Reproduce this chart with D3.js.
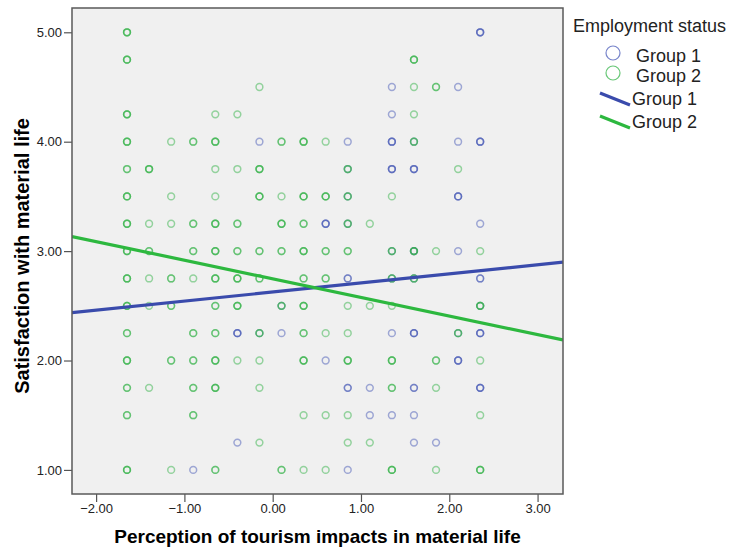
<!DOCTYPE html>
<html>
<head>
<meta charset="utf-8">
<script src="https://cdn.jsdelivr.net/npm/d3@7"></script>
<style>
  body { margin: 0; background: #fff; }
  svg text { font-family: "Liberation Sans", Arial, sans-serif; fill: #000; }
  .axis path { display: none; }
  .axis line { stroke: #555; stroke-width: 1.2; }
  .axis text { font-size: 13px; fill: #222; }
  .axis-title { font-size: 19px; font-weight: bold; }
  .legend text { font-size: 18px; fill: #222; }
</style>
</head>
<body>
<svg id="chart"></svg>
<script>
// scatter points per group: [x, y, overlap count]
const group1Points = [
  [2.35, 5.00, 3],
  [1.35, 4.50, 1], [2.10, 4.50, 1],
  [1.35, 4.25, 1],
  [-0.15, 4.00, 1], [0.85, 4.00, 1], [1.35, 4.00, 3], [1.60, 4.00, 1], [2.10, 4.00, 1], [2.35, 4.00, 3],
  [0.85, 3.75, 1], [1.35, 3.75, 3], [1.60, 3.75, 3],
  [0.85, 3.50, 1], [2.10, 3.50, 3],
  [0.60, 3.25, 3], [0.85, 3.25, 1], [2.35, 3.25, 1],
  [1.35, 3.00, 1], [1.60, 3.00, 2], [2.10, 3.00, 1],
  [0.85, 2.75, 2], [1.35, 2.75, 1], [1.60, 2.75, 1], [2.35, 2.75, 2],
  [0.10, 2.50, 1], [2.35, 2.50, 1],
  [-0.40, 2.25, 3], [-0.15, 2.25, 1], [0.10, 2.25, 1], [1.35, 2.25, 1], [1.60, 2.25, 3], [2.10, 2.25, 1], [2.35, 2.25, 3],
  [0.60, 2.00, 1], [2.10, 2.00, 3],
  [0.85, 1.75, 2], [1.10, 1.75, 1], [1.60, 1.75, 2], [2.35, 1.75, 3],
  [1.10, 1.50, 1], [1.35, 1.50, 1], [1.60, 1.50, 1],
  [-0.40, 1.25, 1], [1.60, 1.25, 1], [1.85, 1.25, 1],
  [-0.90, 1.00, 1], [0.85, 1.00, 1]
];

const group2Points = [
  [-1.65, 5.00, 3],
  [-1.65, 4.75, 3], [1.60, 4.75, 3],
  [-0.15, 4.50, 1], [1.60, 4.50, 1], [1.85, 4.50, 2],
  [-1.65, 4.25, 3], [-0.65, 4.25, 1], [-0.40, 4.25, 1], [1.60, 4.25, 1],
  [-1.65, 4.00, 3], [-1.15, 4.00, 1], [-0.90, 4.00, 2], [-0.65, 4.00, 3], [0.10, 4.00, 2], [0.35, 4.00, 3], [0.60, 4.00, 1], [1.60, 4.00, 2],
  [-1.65, 3.75, 2], [-1.40, 3.75, 3], [-0.65, 3.75, 1], [-0.40, 3.75, 1], [-0.15, 3.75, 3], [0.85, 3.75, 2], [2.10, 3.75, 1],
  [-1.65, 3.50, 3], [-1.15, 3.50, 1], [-0.65, 3.50, 1], [-0.15, 3.50, 3], [0.10, 3.50, 1], [0.35, 3.50, 3], [0.60, 3.50, 3], [0.85, 3.50, 2], [1.35, 3.50, 1],
  [-1.65, 3.25, 3], [-1.40, 3.25, 1], [-1.15, 3.25, 1], [-0.90, 3.25, 2], [-0.65, 3.25, 3], [-0.40, 3.25, 2], [0.10, 3.25, 3], [0.35, 3.25, 2], [0.85, 3.25, 2], [1.10, 3.25, 1],
  [-1.65, 3.00, 3], [-1.40, 3.00, 2], [-0.90, 3.00, 2], [-0.65, 3.00, 3], [-0.40, 3.00, 2], [-0.15, 3.00, 2], [0.10, 3.00, 2], [0.35, 3.00, 3], [0.60, 3.00, 2], [0.85, 3.00, 2], [1.35, 3.00, 2], [1.60, 3.00, 3], [1.85, 3.00, 1], [2.35, 3.00, 1],
  [-1.65, 2.75, 3], [-1.40, 2.75, 1], [-1.15, 2.75, 2], [-0.90, 2.75, 1], [-0.65, 2.75, 3], [-0.40, 2.75, 3], [-0.15, 2.75, 2], [0.35, 2.75, 2], [0.60, 2.75, 2], [1.35, 2.75, 2], [1.60, 2.75, 2],
  [-1.65, 2.50, 3], [-1.40, 2.50, 1], [-1.15, 2.50, 2], [-0.65, 2.50, 2], [-0.40, 2.50, 3], [0.10, 2.50, 2], [0.35, 2.50, 3], [0.85, 2.50, 1], [1.10, 2.50, 1], [1.35, 2.50, 1], [2.35, 2.50, 3],
  [-1.65, 2.25, 2], [-0.90, 2.25, 2], [-0.65, 2.25, 2], [-0.15, 2.25, 2], [0.35, 2.25, 2], [0.60, 2.25, 1], [0.85, 2.25, 1], [2.10, 2.25, 2],
  [-1.65, 2.00, 3], [-1.15, 2.00, 2], [-0.90, 2.00, 2], [-0.65, 2.00, 3], [-0.40, 2.00, 1], [-0.15, 2.00, 1], [0.35, 2.00, 3], [0.85, 2.00, 3], [1.35, 2.00, 3], [1.85, 2.00, 2], [2.35, 2.00, 1],
  [-1.65, 1.75, 2], [-1.40, 1.75, 1], [-0.90, 1.75, 2], [-0.65, 1.75, 3], [-0.15, 1.75, 1], [1.35, 1.75, 2], [1.85, 1.75, 1],
  [-1.65, 1.50, 2], [-0.90, 1.50, 2], [0.35, 1.50, 1], [0.60, 1.50, 1], [0.85, 1.50, 1], [2.35, 1.50, 1],
  [-0.15, 1.25, 1], [0.85, 1.25, 1], [1.10, 1.25, 1],
  [-1.65, 1.00, 3], [-1.15, 1.00, 1], [-0.65, 1.00, 2], [0.10, 1.00, 2], [0.35, 1.00, 1], [0.60, 1.00, 1], [1.35, 1.00, 3], [1.85, 1.00, 1], [2.35, 1.00, 3]
];

// linear fit lines per group
const groupNames = ["Group 1", "Group 2"];
const fitIntercepts = [2.626, 2.747];
const fitSlopes = [0.0829, -0.170];

const xTicks = [-2, -1, 0, 1, 2, 3];
const yTicks = [1, 2, 3, 4, 5];

const pointColors = ["#4a5bb8", "#35b449"];
const lineColors = ["#3a4bac", "#2db83f"];

const width = 734, height = 550;
const margin = {top: 8, right: 171, bottom: 56, left: 72};
const innerW = width - margin.left - margin.right;
const innerH = height - margin.top - margin.bottom;

const svg = d3.select("#chart").attr("width", width).attr("height", height);

const xScale = d3.scaleLinear().domain([-2.273, 3.288]).range([0, innerW]);
const yScale = d3.scaleLinear().domain([0.78, 5.222]).range([innerH, 0]);

const chart = svg.append("g")
  .attr("transform", `translate(${margin.left},${margin.top})`);

chart.append("rect")
  .attr("width", innerW).attr("height", innerH)
  .attr("fill", "#f0f0f0");

chart.append("clipPath").attr("id", "plot-clip")
  .append("rect").attr("width", innerW).attr("height", innerH);

// axes
chart.append("g")
  .attr("class", "axis x-axis")
  .attr("transform", `translate(0,${innerH})`)
  .call(d3.axisBottom(xScale).tickValues(xTicks).tickSize(8).tickPadding(2).tickFormat(d3.format(".2f")));

chart.append("g")
  .attr("class", "axis y-axis")
  .call(d3.axisLeft(yScale).tickValues(yTicks).tickSize(8).tickPadding(2).tickFormat(d3.format(".2f")));

// points
const groupData = [group1Points, group2Points];
const plotG = chart.append("g").attr("clip-path", "url(#plot-clip)");

groupData.forEach((pts, gi) => {
  // repeat overlapping cases so stacked circles look darker
  const expanded = [];
  pts.forEach(p => { for (let k = 0; k < p[2]; k++) expanded.push(p); });
  plotG.append("g").selectAll("circle")
    .data(expanded)
    .enter().append("circle")
    .attr("cx", d => xScale(d[0]))
    .attr("cy", d => yScale(d[1]))
    .attr("r", 3.4)
    .attr("fill", "none")
    .attr("stroke", pointColors[gi])
    .attr("stroke-width", 1.5)
    .attr("stroke-opacity", 0.5);
});

// fit lines
const line = d3.line().x(d => xScale(d[0])).y(d => yScale(d[1]));
groupNames.forEach((g, gi) => {
  const xs = xScale.domain();
  plotG.append("path")
    .datum(xs.map(x => [x, fitIntercepts[gi] + fitSlopes[gi] * x]))
    .attr("d", line)
    .attr("fill", "none")
    .attr("stroke", lineColors[gi])
    .attr("stroke-width", 3.2);
});

// frame
chart.append("rect")
  .attr("width", innerW).attr("height", innerH)
  .attr("fill", "none")
  .attr("stroke", "#5a5a5a")
  .attr("stroke-width", 1.5);

// axis titles
svg.append("text")
  .attr("class", "axis-title")
  .attr("x", margin.left + innerW / 2)
  .attr("y", 543)
  .attr("text-anchor", "middle")
  .text("Perception of tourism impacts in material life");

svg.append("text")
  .attr("class", "axis-title")
  .attr("transform", "translate(29,256) rotate(-90)")
  .attr("text-anchor", "middle")
  .style("font-size", "20px")
  .text("Satisfaction with material life");

// legend
const legend = svg.append("g").attr("class", "legend");
legend.append("text").attr("x", 573).attr("y", 32).text("Employment status");

groupNames.forEach((g, gi) => {
  const cy = 53 + gi * 20;
  legend.append("circle")
    .attr("cx", 613).attr("cy", cy).attr("r", 7)
    .attr("fill", "none")
    .attr("stroke", pointColors[gi])
    .attr("stroke-opacity", 0.75)
    .attr("stroke-width", 1.2);
  legend.append("text").attr("x", 636).attr("y", cy + 9).text(g);
});

groupNames.forEach((g, gi) => {
  const y0 = 93 + gi * 23;
  legend.append("line")
    .attr("x1", 600).attr("y1", y0)
    .attr("x2", 630).attr("y2", y0 + 12)
    .attr("stroke", lineColors[gi])
    .attr("stroke-width", 3.2);
  legend.append("text").attr("x", 632).attr("y", y0 + 12).text(g);
});
</script>
</body>
</html>
